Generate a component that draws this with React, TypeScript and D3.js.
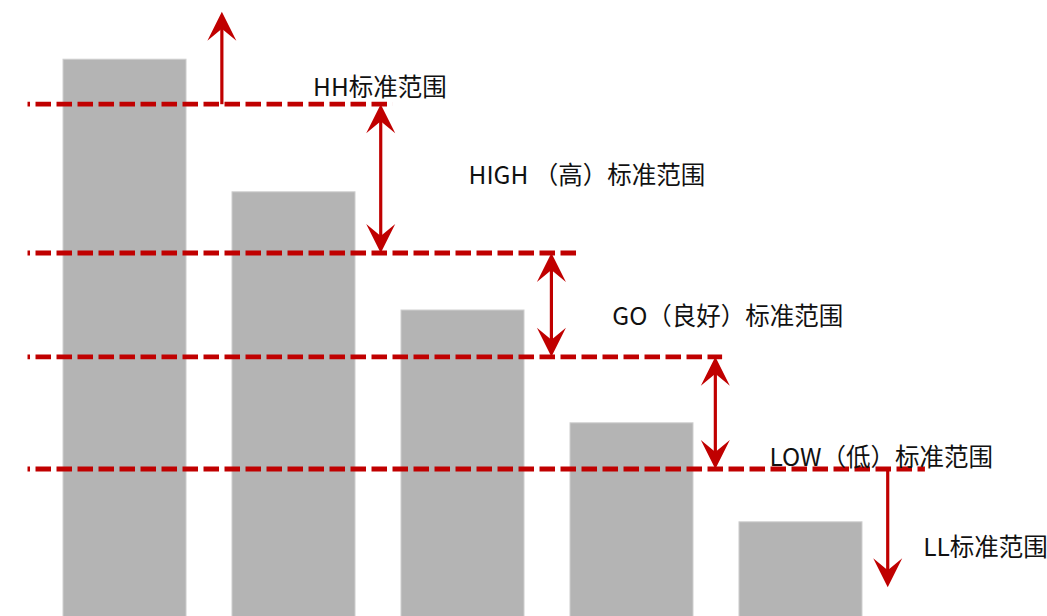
import React, { useEffect, useRef } from 'react'
import * as d3 from 'd3'

// bar heights (chart units, 0 = bottom edge)
const categories = ['A', 'B', 'C', 'D', 'E']
const barValues = [92.8, 70.7, 51, 32.2, 15.7]

// threshold levels (dashed lines) and where each line stops (in bar-slot units)
const thresholdNames = ['HH', 'HIGH', 'GO', 'LOW']
const thresholdValues = [85.3, 60.5, 43.2, 24.5]
const thresholdEnds = [1.95, 3.04, 3.9, 5.1]
const lineStart = -0.21

// range arrows: slot position, from value, to value, double-headed?
const arrowSlots = [0.94, 1.88, 2.89, 3.86, 4.88]
const arrowFrom = [85.3, 85.3, 60.5, 43.2, 24.5]
const arrowTo = [100.7, 60.5, 43.2, 24.5, 4.8]
const arrowDouble = [false, true, true, true, false]

// labels
const labelTexts = ['HH标准范围', 'HIGH （高）标准范围', 'GO（良好）标准范围', 'LOW（低）标准范围', 'LL标准范围']
const labelSlots = [1.48, 2.4, 3.25, 4.18, 5.09]
const labelValues = [86.7, 72, 48.5, 25, 10]

const width = 1047
const height = 616
const red = '#c00000'

export default function App() {
  const svgRef = useRef<SVGSVGElement>(null)

  useEffect(() => {
    const svg = d3.select(svgRef.current)
    svg.selectAll('*').remove()

    const y = d3.scaleLinear().domain([0, 100]).range([616, 16])
    const slot = d3.scaleLinear().domain([0, 5]).range([63, 63 + 5 * 169])
    const x = d3.scaleBand<string>()
      .domain(categories)
      .range([63, 862])
      .paddingInner(0.272)
      .paddingOuter(0)

    // bars
    svg.append('g')
      .selectAll('rect')
      .data(barValues)
      .enter().append('rect')
      .attr('x', (d, i) => x(categories[i]) as number)
      .attr('y', d => y(d))
      .attr('width', x.bandwidth())
      .attr('height', d => height - y(d) + 10)
      .attr('fill', '#b4b4b4')
      .attr('stroke', '#cfcfcf')
      .attr('stroke-width', 1)

    // dashed threshold lines
    svg.append('g')
      .selectAll('line')
      .data(thresholdValues)
      .enter().append('line')
      .attr('x1', slot(lineStart))
      .attr('x2', (d, i) => slot(thresholdEnds[i]))
      .attr('y1', d => y(d))
      .attr('y2', d => y(d))
      .attr('stroke', red)
      .attr('stroke-width', 4.8)
      .attr('stroke-dasharray', '15.5 5.5')
      .attr('stroke-dashoffset', 13)

    // arrowhead with a notch, tip at (tx, ty), pointing dir (-1 up, 1 down)
    const head = (tx: number, ty: number, dir: number) => {
      const p = d3.path()
      p.moveTo(tx, ty)
      p.lineTo(tx + 14.5, ty - dir * 29)
      p.lineTo(tx, ty - dir * 17)
      p.lineTo(tx - 14.5, ty - dir * 29)
      p.closePath()
      return p.toString()
    }

    const arrows = svg.append('g')
    arrowSlots.forEach((s, i) => {
      const ax = slot(s)
      const y0 = y(arrowFrom[i])
      const y1 = y(arrowTo[i])
      const dir = y1 > y0 ? 1 : -1
      arrows.append('line')
        .attr('x1', ax).attr('x2', ax)
        .attr('y1', arrowDouble[i] ? y0 + dir * 10 : y0)
        .attr('y2', y1 - dir * 10)
        .attr('stroke', red)
        .attr('stroke-width', 3.2)
      arrows.append('path').attr('d', head(ax, y1, dir)).attr('fill', red)
      if (arrowDouble[i]) {
        arrows.append('path').attr('d', head(ax, y0, -dir)).attr('fill', red)
      }
    })

    // labels
    svg.append('g')
      .selectAll('text')
      .data(labelTexts)
      .enter().append('text')
      .attr('x', (d, i) => slot(labelSlots[i]))
      .attr('y', (d, i) => y(labelValues[i]))
      .attr('font-family', '"Noto Sans CJK SC", "Noto Sans", sans-serif')
      .attr('font-size', 24.5)
      .attr('fill', '#111')
      .text(d => d)
  }, [])

  return (
    <svg
      ref={svgRef}
      width={width}
      height={height}
      style={{ position: 'absolute', left: 0, top: 0, display: 'block', background: '#fff' }}
    />
  )
}
